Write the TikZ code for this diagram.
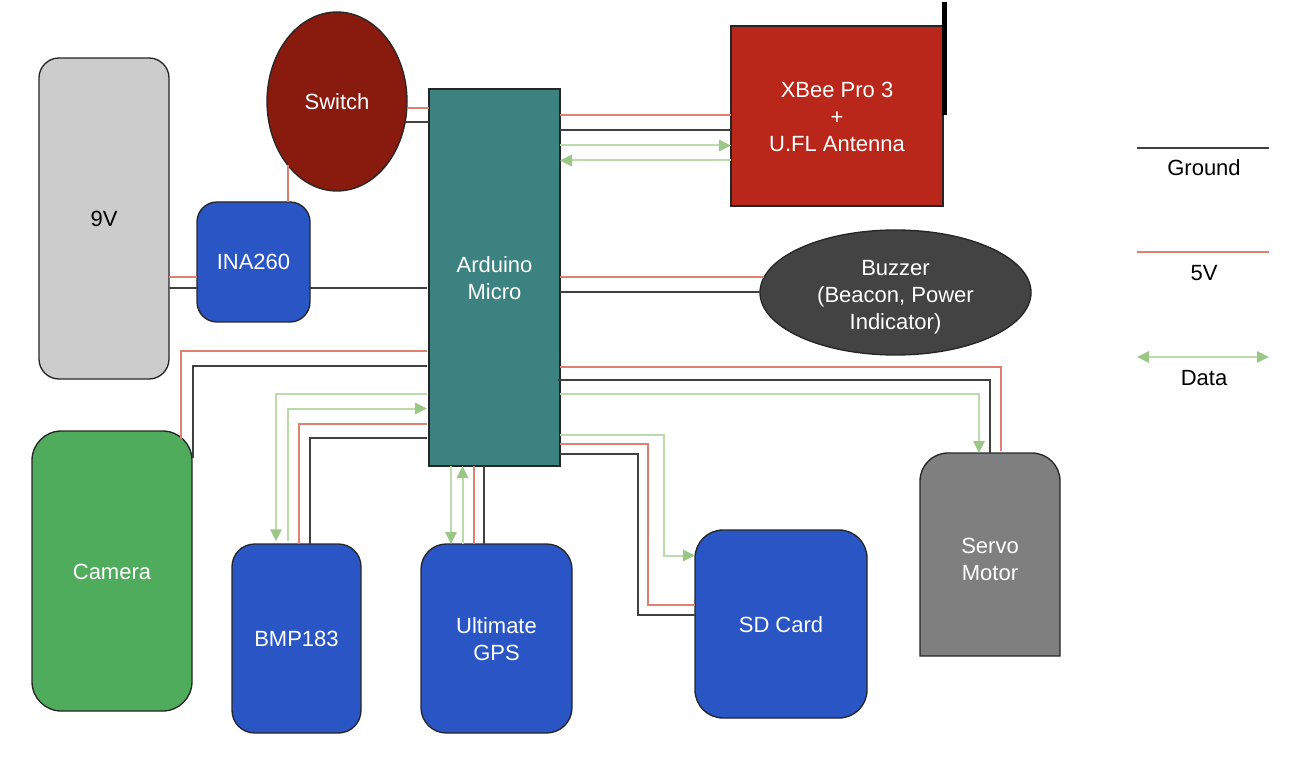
\documentclass[tikz,border=0pt]{standalone}
\usepackage{fontspec}
\setmainfont{Liberation Sans}
\usetikzlibrary{shapes.geometric,arrows.meta}
\definecolor{grey9v}{HTML}{CCCCCC}
\definecolor{switchred}{HTML}{891A0E}
\definecolor{chipblue}{HTML}{2A55C5}
\definecolor{teal2}{HTML}{3C8280}
\definecolor{xbeered}{HTML}{B9271A}
\definecolor{buzzgrey}{HTML}{434343}
\definecolor{camgreen}{HTML}{4FAC5C}
\definecolor{servogrey}{HTML}{7F7F7F}
\definecolor{wirered}{HTML}{E08070}
\definecolor{wireblack}{HTML}{404040}
\definecolor{wiregreen}{HTML}{BBDBAD}
\definecolor{tipgreen}{HTML}{9BC786}
\def\px{0.75pt}
\def\nudge#1{\rule{0pt}{#1pt}}
\begin{document}
\begin{tikzpicture}[x=0.75pt,y=-0.75pt]
        \tikzstyle{part}=[draw=black!85, line width=1pt, inner sep=0pt, outer sep=0pt, align=center, text=white, font=\fontsize{16.5}{20.25}\selectfont]
        \tikzstyle{round}=[part, rectangle, rounded corners=15pt]
        \tikzstyle{oval}=[part, ellipse]
        \tikzstyle{powerline}=[color=wirered, line width=1.5pt]
        \tikzstyle{gndline}=[color=wireblack, line width=1.5pt]
        \tikzstyle{dataline}=[color=wiregreen, line width=1.5pt, arrows={-{Triangle[length=9pt,width=8.5pt,color=tipgreen]}}]
        \tikzstyle{dataplain}=[color=wiregreen, line width=1.5pt]
        \tikzstyle{legendtext}=[font=\fontsize{16.5}{20.25}\selectfont, inner sep=0pt]
        \useasboundingbox (0,0) rectangle (1302,766);
        % parts
        \node[round, fill=grey9v, text=black, minimum width=130*\px, minimum height=321*\px] (Battery) at (104,218.5) {9V};
        \node[oval, fill=switchred, minimum width=140*\px, minimum height=179*\px] (Switch) at (337,101.5) {Switch};
        \node[round, fill=chipblue, minimum width=113*\px, minimum height=120*\px] (INA) at (253.5,262) {INA260};
        \node[part, fill=teal2, minimum width=131*\px, minimum height=377*\px] (Arduino) at (494.5,277.5) {\nudge{13.5}Arduino\\Micro};
        \node[part, fill=xbeered, minimum width=212*\px, minimum height=180*\px] (XBee) at (837,116) {\nudge{13.5}XBee Pro 3\\+\\U.FL Antenna};
        \node[oval, fill=buzzgrey, minimum width=271*\px, minimum height=125*\px] (Buzzer) at (895.5,292.5) {\nudge{18}Buzzer\\(Beacon, Power\\Indicator)};
        \node[round, rounded corners=22pt, fill=camgreen, minimum width=160*\px, minimum height=280*\px] (Camera) at (112,571) {\nudge{13.5}Camera};
        \node[round, rounded corners=17pt, fill=chipblue, minimum width=129*\px, minimum height=189*\px] (BMP) at (296.5,638.5) {BMP183};
        \node[round, rounded corners=19pt, fill=chipblue, minimum width=151*\px, minimum height=189*\px] (GPS) at (496.5,638.5) {\nudge{13.5}Ultimate\\GPS};
        \node[round, rounded corners=21pt, fill=chipblue, minimum width=172*\px, minimum height=188*\px] (SD) at (781,624) {\nudge{13.5}SD Card};
        \node[inner sep=0pt, outer sep=0pt, minimum width=140*\px, minimum height=203*\px] (Servo) at (990,554.5) {};
        \draw[draw=black!85, fill=servogrey, line width=1pt] (Servo.south west) [rounded corners=21pt] -- (Servo.north west) -- (Servo.north east) [sharp corners] -- (Servo.south east) -- cycle;
        \node[part, draw=none] (ServoText) at (990,559) {Servo\\Motor};
        \draw[line width=3.6pt] ([xshift=1.1pt]XBee.east |- 0,2) -- ([xshift=1.1pt]XBee.east |- 0,115);
        % wires end just short of the arduino on its left side
        \coordinate (ArduinoL) at ([xshift=-1.5pt]Arduino.west);
        \path [powerline] (Battery.east |- 0,277) edge (INA.west |- 0,277);
        \path [gndline] (Battery.east |- 0,288) edge (INA.west |- 0,288);
        \path [gndline] (INA.east |- 0,288) edge (ArduinoL |- 0,288);
        \path [powerline] (INA.north -| Switch.232) edge (Switch.232);
        \path [powerline] (Switch.east |- 0,108) edge (Arduino.west |- 0,108);
        \path [gndline] ([xshift=-1.5pt]Switch.east |- 0,122.5) edge (Arduino.west |- 0,122.5);
        % xbee
        \path [powerline] (Arduino.east |- 0,115.5) edge (XBee.west |- 0,115.5);
        \path [gndline] (Arduino.east |- 0,130.5) edge (XBee.west |- 0,130.5);
        \draw[dataline] (Arduino.east |- 0,145.5) -- (XBee.west |- 0,145.5);
        \draw[dataline] (XBee.west |- 0,160.5) -- (Arduino.east |- 0,160.5);
        % buzzer
        \path [powerline] (Arduino.east |- 0,277) edge ([xshift=3pt]Buzzer.west |- 0,277);
        \path [gndline] (Arduino.east |- 0,292.5) edge (Buzzer.west);
        % camera
        \draw[powerline] (ArduinoL |- 0,351) -| ([yshift=-6pt]Camera.north -| 181,0);
        \draw[gndline] (ArduinoL |- 0,366) -| ([xshift=0.75pt]Camera.east |- 0,458);
        % bmp
        \draw[dataline] (ArduinoL |- 0,394) -| ([yshift=2pt]BMP.north -| 276,0);
        \draw[dataline] ([yshift=2pt]BMP.north -| 287.5,0) |- (ArduinoL |- 0,408.5);
        \draw[powerline] (ArduinoL |- 0,424) -| (BMP.north -| 298.5,0);
        \draw[gndline] (ArduinoL |- 0,438) -| (BMP.north -| 309.5,0);
        % gps
        \draw[dataline] (Arduino.south -| 451,0) -- (GPS.north -| 451,0);
        \draw[dataline] (GPS.north -| 462.5,0) -- (Arduino.south -| 462.5,0);
        \path [powerline] (Arduino.south -| 473.5,0) edge (GPS.north -| 473.5,0);
        \path [gndline] (Arduino.south -| 483.5,0) edge (GPS.north -| 483.5,0);
        % sd card
        \draw[dataline] (Arduino.east |- 0,435) -| (664,555.5) -- (SD.west |- 0,555.5);
        \draw[powerline] (Arduino.east |- 0,444) -| (647.5,604.5) -- (SD.west |- 0,604.5);
        \draw[gndline] (Arduino.east |- 0,454) -| (637.5,614.5) -- (SD.west |- 0,614.5);
        % servo
        \draw[powerline] (Arduino.east |- 0,366.5) -| ([yshift=1.5pt]Servo.north -| 1001,0);
        \draw[gndline] ([xshift=-1.5pt]Arduino.east |- 0,380) -| (Servo.north -| 990,0);
        \draw[dataline] (Arduino.east |- 0,394) -| (Servo.north -| 979,0);
        % legend
        \node[legendtext] (GroundText) at (1204,168) {Ground};
        \node[legendtext] (PowerText) at (1204,273) {5V};
        \node[legendtext] (DataText) at (1204,378) {Data};
        \coordinate (GroundA) at (1137,148);
        \coordinate (GroundB) at (1269,148);
        \coordinate (PowerA) at (1137,252);
        \coordinate (PowerB) at (1269,252);
        \coordinate (DataA) at (1137,357);
        \coordinate (DataB) at (1269,357);
        \path [gndline] (GroundA) edge (GroundB);
        \path [powerline] (PowerA) edge (PowerB);
        \draw[dataplain, {Triangle[length=9pt,width=8.5pt,color=tipgreen]}-{Triangle[length=9pt,width=8.5pt,color=tipgreen]}] (DataA) -- (DataB);
    \end{tikzpicture}
\end{document}
